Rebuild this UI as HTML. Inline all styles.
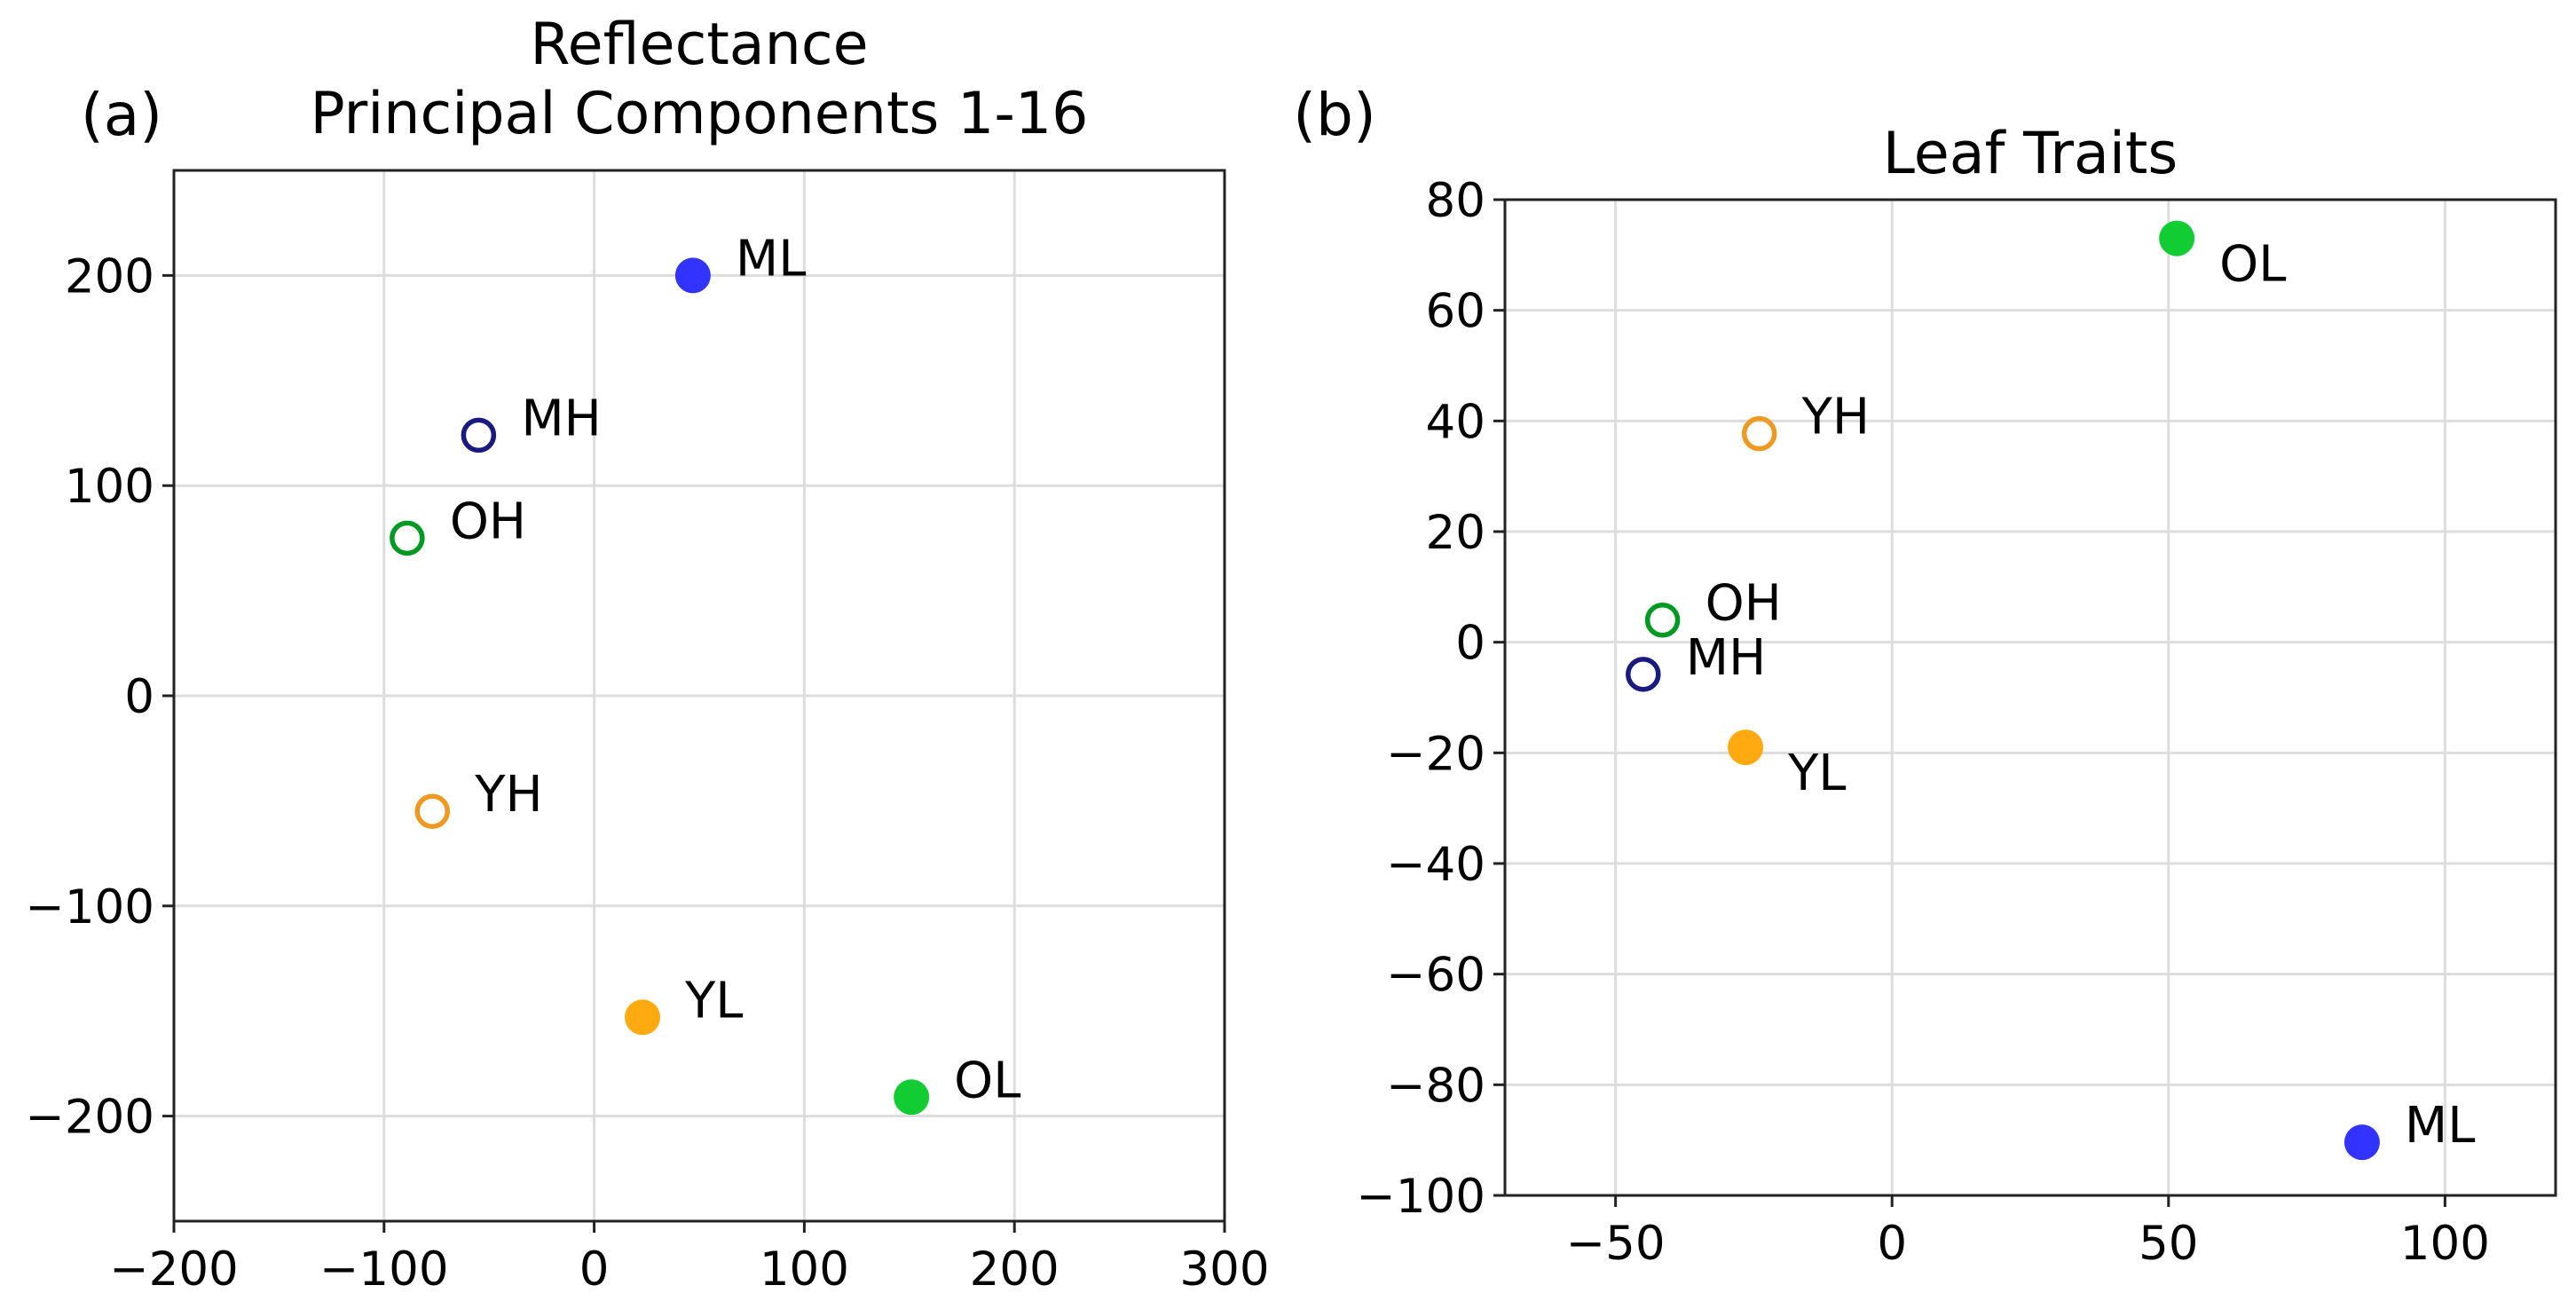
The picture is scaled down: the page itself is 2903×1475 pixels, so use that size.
<!DOCTYPE html>
<html><head><meta charset="utf-8"><style>
html,body{margin:0;padding:0;background:#fff;}
svg{display:block;font-family:"DejaVu Sans","Liberation Sans",sans-serif;}
</style></head><body>
<svg id="fig" width="2903" height="1475" viewBox="0 0 2903 1475"></svg>
<script>
const labelsA = ["ML","MH","OH","YH","YL","OL"];
const xA = [47,-55,-89,-77,23,151];
const yA = [200,124,75,-55,-153,-191];
const labelsB = ["OL","YH","OH","MH","YL","ML"];
const xB = [51.5,-24,-41.5,-45,-26.5,85];
const yB = [73,37.7,4,-5.8,-19,-90.4];
const xTicksA = [-200,-100,0,100,200,300];
const yTicksA = [-200,-100,0,100,200];
const xTicksB = [-50,0,50,100];
const yTicksB = [-100,-80,-60,-40,-20,0,20,40,60,80];

const styles = {
  ML:{fill:"#3333ff",stroke:"none"}, MH:{fill:"none",stroke:"#1a1a80"},
  OH:{fill:"none",stroke:"#009922"}, OL:{fill:"#11cc33",stroke:"none"},
  YH:{fill:"none",stroke:"#ee9922"}, YL:{fill:"#ffaa11",stroke:"none"}
};
const below = {B:{OL:true,YL:true}};
const NS="http://www.w3.org/2000/svg";
const svg=document.getElementById('fig');
function el(tag,attrs,parent){const e=document.createElementNS(NS,tag);for(const k in attrs)e.setAttribute(k,attrs[k]);(parent||svg).appendChild(e);return e;}

function panel(id,box,xr,yr,xt,yt,labs,xs,ys){
  const g=el('g',{});
  
  
  const sx=v=>box.x0+(v-xr[0])/(xr[1]-xr[0])*(box.x1-box.x0);
  const sy=v=>box.y1-(v-yr[0])/(yr[1]-yr[0])*(box.y1-box.y0);
  xt.forEach(t=>{
    const l=el('line',{x1:sx(t),x2:sx(t),y1:box.y0,y2:box.y1,stroke:"#dddddd","stroke-width":3},g);
    
    
    el('line',{x1:sx(t),x2:sx(t),y1:box.y1,y2:box.y1+13,stroke:"#222","stroke-width":3},g);
    const tx=el('text',{x:sx(t),y:box.y1+72,"font-size":53,"text-anchor":"middle",fill:"#000"},g);
    tx.textContent=(t<0?"\u2212"+(-t):String(t));
    
    
  });
  yt.forEach(t=>{
    const l=el('line',{x1:box.x0,x2:box.x1,y1:sy(t),y2:sy(t),stroke:"#dddddd","stroke-width":3},g);
    
    
    el('line',{x1:box.x0-13,x2:box.x0,y1:sy(t),y2:sy(t),stroke:"#222","stroke-width":3},g);
    const tx=el('text',{x:box.x0-22,y:sy(t)+19,"font-size":53,"text-anchor":"end",fill:"#000"},g);
    tx.textContent=(t<0?"\u2212"+(-t):String(t));
    
    
  });
  const fr=el('rect',{x:box.x0,y:box.y0,width:box.x1-box.x0,height:box.y1-box.y0,fill:"none",stroke:"#222","stroke-width":3},g);
  
  
  labs.forEach((lb,i)=>{
    const s=styles[lb];
    const c=el('circle',{cx:sx(xs[i]),cy:sy(ys[i]),r:s.fill==="none"?17:20,fill:s.fill==="none"?"none":s.fill,stroke:s.stroke,"stroke-width":s.fill==="none"?5.5:0},g);
    
    
    const dn=below[id]&&below[id][lb];
    const tx=el('text',{x:sx(xs[i])+48,y:sy(ys[i])+(dn?48:0),"font-size":56,fill:"#000"},g);
    tx.textContent=lb;
    
    
  });
}
panel('A',{x0:196,x1:1380,y0:192,y1:1376},[-200,300],[-250,250],xTicksA,yTicksA,labelsA,xA,yA);
panel('B',{x0:1696,x1:2880,y0:225,y1:1347},[-70,120],[-100,80],xTicksB,yTicksB,labelsB,xB,yB);

function txt(x,y,s,size,name,anchor){const t=el('text',{x:x,y:y,"font-size":size,"text-anchor":anchor||"middle",fill:"#000"});t.textContent=s;
  
  }
txt(788,72,"Reflectance",65,"title-a-line1");
txt(788,150,"Principal Components 1-16",65,"title-a-line2");
txt(137,152,"(a)",66,"panel-label-a");
txt(1504,152,"(b)",66,"panel-label-b");
txt(2288,195,"Leaf Traits",65,"title-b");
</script>
</body></html>
